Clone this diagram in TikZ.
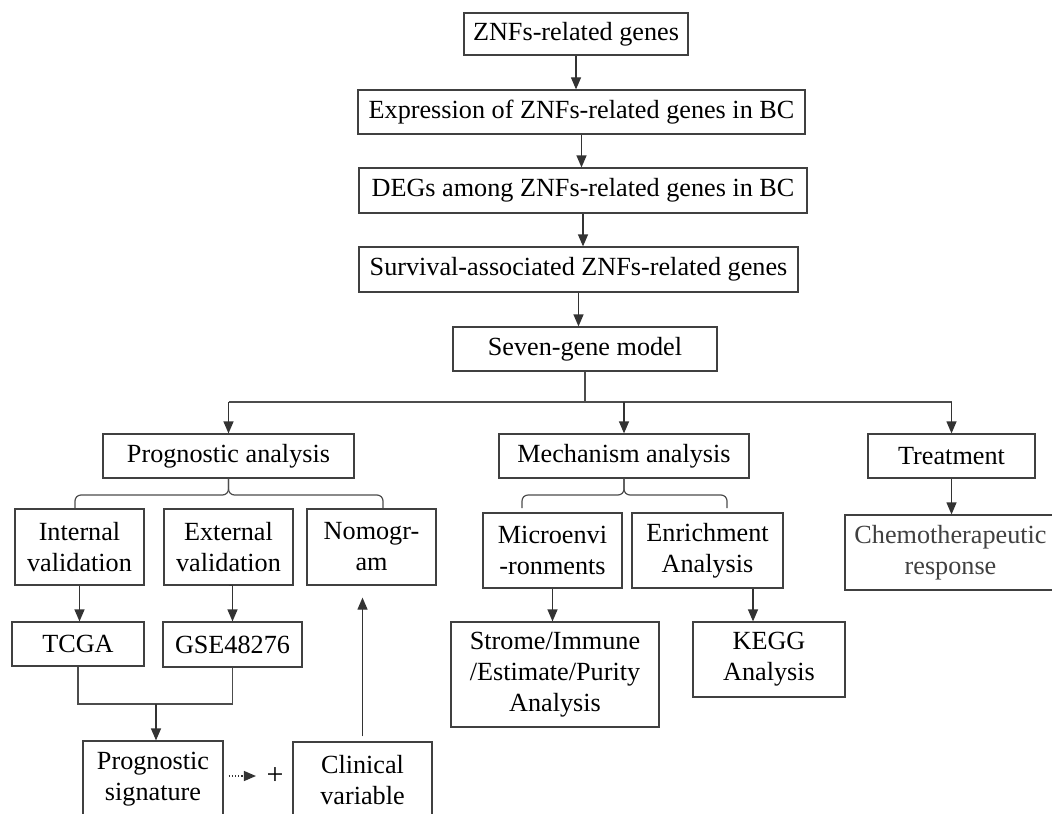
\documentclass[tikz,border=0pt]{standalone}
\usepackage{fontspec}
\setmainfont{Liberation Serif}
\usetikzlibrary{arrows.meta}
\tikzstyle{flow}=[x=0.5pt, y=-0.5pt, line width=0.6pt, >={Triangle[width=5pt,length=6pt]}, font=\fontsize{13.1}{15.5}\selectfont]
\tikzstyle{box}=[draw=black!75, rectangle, align=center, inner sep=0pt]
\tikzstyle{line}=[draw=black!70]
\tikzstyle{link}=[draw=black!80, ->]

\begin{document}
\begin{tikzpicture}[flow]
  \clip (0,0) rectangle (1052,813);
  % main chain
  \node[box, minimum width=112pt, minimum height=21pt] (znf) at (576,34) {ZNFs-related genes};
  \node[box, minimum width=223.5pt, minimum height=22pt] (expr) at (581.5,112) {Expression of ZNFs-related genes in BC};
  \node[box, minimum width=224pt, minimum height=22.5pt] (degs) at (583,190.5) {DEGs among ZNFs-related genes in BC};
  \node[box, minimum width=219.5pt, minimum height=22.5pt] (surv) at (578.5,269.5) {Survival-associated ZNFs-related genes};
  \node[box, minimum width=132pt, minimum height=22pt] (seven) at (585,349) {Seven-gene model};
  % three branches
  \node[box, minimum width=125.5pt, minimum height=22pt] (prog) at (228.5,456) {Prognostic analysis};
  \node[box, minimum width=125pt, minimum height=22pt] (mech) at (624,456) {Mechanism analysis};
  \node[box, minimum width=83.5pt, minimum height=22pt] (treat) at (951.5,456) {Treatment};
  % prognostic side
  \node[box, minimum width=64.5pt, minimum height=38pt] (intval) at (79.5,547) {Internal\\validation};
  \node[box, minimum width=64.5pt, minimum height=38pt] (extval) at (228.5,547) {External\\validation};
  \node[box, minimum width=64.5pt, minimum height=38pt] (nomo) at (371.5,547) {Nomogr-\\am};
  \node[box, minimum width=66pt, minimum height=22pt] (tcga) at (78,644) {TCGA};
  \node[box, minimum width=69.5pt, minimum height=22.5pt] (gse) at (232.5,644.5) {GSE48276};
  \node[box, minimum width=70pt, minimum height=38pt] (progsig) at (153,779) {Prognostic\\signature};
  \node[box, minimum width=69.5pt, minimum height=38pt] (clin) at (362.5,780) {Clinical\\variable};
  \node[inner sep=1pt, font=\fontsize{15}{15}\selectfont] (plus) at (275,776) {+};
  % mechanism side
  \node[box, minimum width=69.5pt, minimum height=37.5pt] (micro) at (552.5,550.5) {Microenvi\\-ronments};
  \node[box, minimum width=75.5pt, minimum height=37.5pt] (enrich) at (707.5,550.5) {Enrichment\\Analysis};
  \node[box, minimum width=104pt, minimum height=52.5pt] (strome) at (555,674.5) {Strome/Immune\\/Estimate/Purity\\Analysis};
  \node[box, minimum width=76pt, minimum height=37.5pt] (kegg) at (769,659.5) {KEGG\\Analysis};
  % treatment side
  \node[box, minimum width=105.5pt, minimum height=37.5pt, text=black!75] (chemo) at (950.5,552.5) {Chemotherapeutic\\response};

  \coordinate (bus) at (0,402);
  \coordinate (pbus) at (0,495);
  \coordinate (pbl) at (75,508);
  \coordinate (pbr) at (383,508);
  \coordinate (mbl) at (522,508);
  \coordinate (mbr) at (727,508);
  \coordinate (mrg) at (156,704);

  \draw[link] (znf.south) -- (znf.south |- expr.north);
  \draw[link] (expr.south) -- (expr.south |- degs.north);
  \draw[link] (degs.south) -- (degs.south |- surv.north);
  \draw[link] (surv.south) -- (surv.south |- seven.north);
  \draw[line] (seven.south) -- (seven.south |- bus);
  \draw[line] (bus -| prog.north) -- (bus -| treat.north);
  \draw[link] (bus -| prog.north) -- (prog.north);
  \draw[link] (bus -| mech.north) -- (mech.north);
  \draw[link] (bus -| treat.north) -- (treat.north);

  % braces
  \draw[line, rounded corners=3pt] (pbl) |- (prog.south |- pbus) -- (prog.south);
  \draw[line, rounded corners=3pt] (pbr) |- (prog.south |- pbus) -- (prog.south);
  \draw[line, rounded corners=3pt] (mbl) |- (mech.south |- pbus) -- (mech.south);
  \draw[line, rounded corners=3pt] (mbr) |- (mech.south |- pbus) -- (mech.south);

  \draw[link] (intval.south) -- (intval.south |- tcga.north);
  \draw[link] (extval.south) -- (extval.south -| gse.north) -- (gse.north);
  \draw[line] (tcga.south) |- (mrg) -| (gse.south);
  \draw[link] (mrg) -- (mrg |- progsig.north);
  \draw[link, densely dotted, shorten <=2.5pt, shorten >=4pt] (progsig.east |- plus.west) -- (plus.west);
  \draw[link, shorten <=2.5pt, shorten >=6pt] (clin.north) -- (clin.north |- nomo.south);

  \draw[link] (micro.south) -- (micro.south |- strome.north);
  \draw[link] ([xshift=22.75pt]enrich.south) -- ([xshift=-8pt]kegg.north);
  \draw[link] (treat.south) -- (treat.south |- chemo.north);
\end{tikzpicture}
\end{document}
